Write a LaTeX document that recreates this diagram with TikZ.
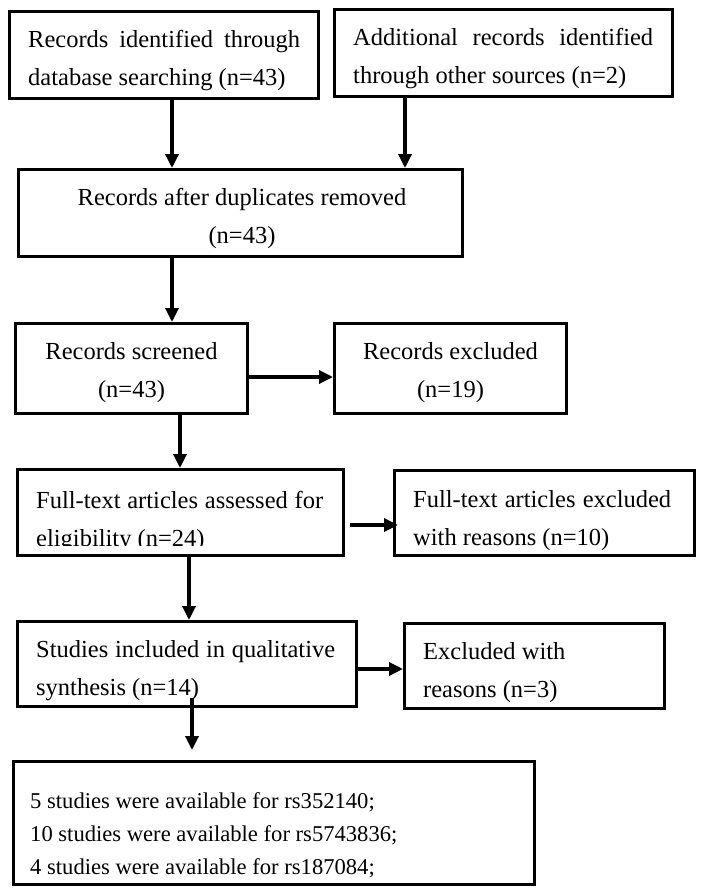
\documentclass[tikz,border=0pt]{standalone}
\usepackage{fontspec}
\setmainfont{Liberation Serif}
\usetikzlibrary{arrows.meta,calc}
\begin{document}
\begin{tikzpicture}[x=1pt,y=-1pt,
  box/.style={draw,line width=3.3pt,inner sep=0pt},
  txt/.style={inner sep=0pt,font=\fontsize{24.5}{38}\selectfont},
  ltxt/.style={txt,anchor=west,align=left},
  ctxt/.style={txt,align=center},
  arr/.style={line width=3.3pt,-{Triangle[width=13pt,length=14pt]}}]
\useasboundingbox (0,0) rectangle (703,894);
% boxes
\node[box,minimum width=308.7pt,minimum height=86.7pt] (B1) at (164,55) {};
\node[box,minimum width=337.7pt,minimum height=86.7pt] (B2) at (503.5,53) {};
\node[box,minimum width=443.7pt,minimum height=86.7pt] (B3) at (240.5,213) {};
\node[box,minimum width=231.7pt,minimum height=89.7pt] (B4) at (131.5,368.5) {};
\node[box,minimum width=231.7pt,minimum height=89.7pt] (B5) at (450.5,368.5) {};
\node[box,minimum width=325.7pt,minimum height=85.7pt] (B6) at (180.5,512.5) {};
\node[box,minimum width=299.7pt,minimum height=84.7pt] (B7) at (544.5,513) {};
\node[box,minimum width=338.7pt,minimum height=84.7pt] (B8) at (187,664) {};
\node[box,minimum width=259.7pt,minimum height=84.7pt] (B9) at (534.5,666) {};
\node[box,minimum width=520.7pt,minimum height=122.7pt] (B10) at (274,823) {};
% texts
\node[ltxt] (T1) at (28,61) {\makebox[272pt][s]{Records identified through}\\database searching (n=43)};
\node[ltxt] (T2) at (353,58.5) {\makebox[300pt][s]{Additional records identified}\\through other sources (n=2)};
\node[ctxt] (T3) at (242,218.5) {Records after duplicates removed\\(n=43)};
\node[ctxt] (T4) at (131.5,373) {Records screened\\(n=43)};
\node[ctxt] (T5) at (450.5,373) {Records excluded\\(n=19)};
\begin{scope}
\clip (16,468) rectangle (345,545.5);
\node[ltxt] (T6) at (36,521.5) {\makebox[287pt][s]{Full-text articles assessed for}\\eligibility (n=24)};
\end{scope}
\node[ltxt] (T7) at (413,520.5) {\makebox[258pt][s]{Full-text articles excluded}\\with reasons (n=10)};
\node[ltxt] (T8) at (36,671) {\makebox[299pt][s]{Studies included in qualitative}\\synthesis (n=14)};
\node[ltxt] (T9) at (423,673) {Excluded with\\reasons (n=3)};
\node[ltxt,font=\fontsize{22.6}{33}\selectfont] (T10) at (30,835) {5 studies were available for rs352140;\\10 studies were available for rs5743836;\\4 studies were available for rs187084;};
% connectors
\draw[arr] ([xshift=8pt]B1.south) -- ([xshift=8pt]B1.south |- B3.north);
\draw[arr] ([xshift=-98.5pt]B2.south) -- ([xshift=-98.5pt]B2.south |- B3.north);
\draw[arr] ([xshift=-68.5pt]B3.south) -- ([xshift=-68.5pt]B3.south |- B4.north);
\draw[arr] ([yshift=-8.5pt]B4.east) -- ([yshift=-8.5pt]B4.east -| B5.west);
\draw[arr] ([xshift=48.5pt]B4.south) -- ([xshift=48.5pt]B4.south |- B6.north);
\draw[arr] ([xshift=5pt,yshift=-12.5pt]B6.east) -- ([xshift=5pt,yshift=-12.5pt]B6.east -| B7.west);
\draw[arr] ([xshift=8.5pt]B6.south) -- ([xshift=8.5pt]B6.south |- B8.north);
\draw[arr] ([yshift=-5pt]B8.east) -- ([yshift=-5pt]B8.east -| B9.west);
\draw[arr] ([xshift=5pt,yshift=10pt]B8.south) -- ([xshift=5pt,yshift=10pt]B8.south |- B10.north);
\end{tikzpicture}
\end{document}
